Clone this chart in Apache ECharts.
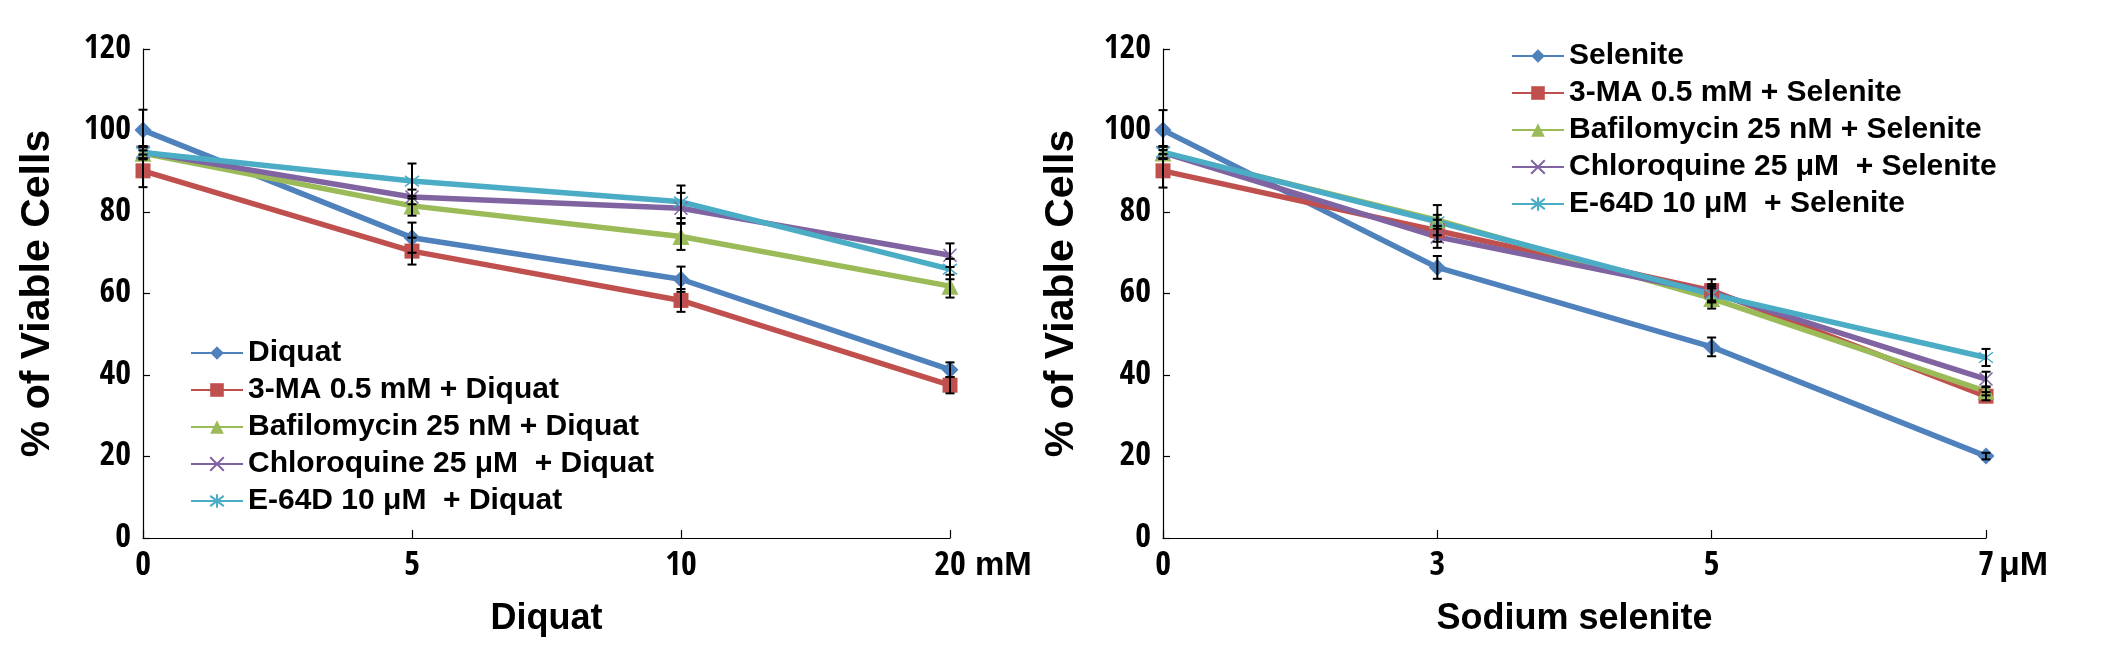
<!DOCTYPE html>
<html>
<head>
<meta charset="utf-8">
<script src="https://cdn.jsdelivr.net/npm/echarts@6/dist/echarts.min.js"></script>
<style>
html,body{margin:0;padding:0;background:#fff;}
#chart{width:2105px;height:650px;}
</style>
</head>
<body>
<div id="chart"></div>
<script>
// ---------- DATA ----------
const diquatCats = ['0', '5', '10', '20'];
const seleniteCats = ['0', '3', '5', '7'];
const yTicks = [0, 20, 40, 60, 80, 100, 120];

const diquatNames = ['Diquat', '3-MA 0.5 mM + Diquat', 'Bafilomycin 25 nM + Diquat', 'Chloroquine 25 \u03bcM  + Diquat', 'E-64D 10 \u03bcM  + Diquat'];
const seleniteNames = ['Selenite', '3-MA 0.5 mM + Selenite', 'Bafilomycin 25 nM + Selenite', 'Chloroquine 25 \u03bcM  + Selenite', 'E-64D 10 \u03bcM  + Selenite'];

const diquatOnly   = [100.1, 73.7, 63.5, 41.3];
const diquat3MA    = [90.1, 70.4, 58.3, 37.5];
const diquatBaf    = [94.4, 81.5, 74.0, 61.8];
const diquatChloro = [94.7, 83.7, 80.9, 69.4];
const diquatE64D   = [94.6, 87.6, 82.5, 66.0];

const diquatOnlyErr   = [5.0, 3.7, 3.1, 1.8];
const diquat3MAErr    = [4.0, 3.3, 2.8, 2.0];
const diquatBafErr    = [1.5, 2.4, 3.3, 2.8];
const diquatChloroErr = [1.5, 1.8, 3.8, 2.9];
const diquatE64DErr   = [1.5, 4.3, 4.0, 2.5];

const seleniteOnly   = [100.1, 66.4, 46.9, 20.1];
const selenite3MA    = [90.1, 75.4, 60.7, 34.8];
const seleniteBaf    = [94.5, 78.0, 58.8, 36.0];
const seleniteChloro = [94.6, 73.9, 60.3, 39.0];
const seleniteE64D   = [94.7, 77.6, 59.8, 44.3];

const seleniteOnlyErr   = [4.9, 2.8, 2.3, 0.8];
const selenite3MAErr    = [4.1, 2.7, 2.8, 1.0];
const seleniteBafErr    = [1.5, 3.7, 2.5, 1.0];
const seleniteChloroErr = [1.5, 2.7, 2.0, 1.8];
const seleniteE64DErr   = [1.5, 1.7, 2.0, 2.1];

// ---------- STYLE ----------
const colors = ['#4F81BD', '#C0504D', '#9BBB59', '#8064A2', '#4BACC6'];
const FONT = "'Liberation Sans', Arial, sans-serif";
const NARROW = "'Open Sans Condensed', 'Liberation Sans', Arial, sans-serif";
const XPATH = 'path://M0,0L10,10M10,0L0,10';
const STARPATH = 'path://M5,-1L5,11M0.5,0.5L9.5,9.5M9.5,0.5L0.5,9.5';
const symbols = ['diamond', 'rect', 'triangle', XPATH, STARPATH];
const symSizes = [17, 15, 17, 13, 14];

function lineSeries(name, data, i, axisIdx) {
  const stroked = i >= 3;
  return {
    name: name,
    type: 'line',
    xAxisIndex: axisIdx,
    yAxisIndex: axisIdx,
    data: data,
    symbol: symbols[i],
    symbolSize: symSizes[i],
    showAllSymbol: true,
    lineStyle: { color: colors[i], width: 5.5 },
    itemStyle: stroked
      ? { color: colors[i], borderColor: colors[i], borderWidth: 1.5 }
      : { color: colors[i], borderWidth: 0 },
    emphasis: { disabled: true },
    z: 2
  };
}

function errSeries(vals, errs, axisIdx) {
  return {
    type: 'custom',
    xAxisIndex: axisIdx,
    yAxisIndex: axisIdx,
    silent: true,
    z: 3,
    data: vals.map((v, j) => [j, v, errs[j]]),
    renderItem: function (params, api) {
      const x = api.value(0), v = api.value(1), e = api.value(2);
      const top = api.coord([x, v + e]);
      const bot = api.coord([x, v - e]);
      const hw = 4.5;
      const st = { stroke: '#000', lineWidth: 2 };
      return {
        type: 'group',
        children: [
          { type: 'line', shape: { x1: top[0], y1: top[1], x2: bot[0], y2: bot[1] }, style: st },
          { type: 'line', shape: { x1: top[0] - hw, y1: top[1], x2: top[0] + hw, y2: top[1] }, style: st },
          { type: 'line', shape: { x1: bot[0] - hw, y1: bot[1], x2: bot[0] + hw, y2: bot[1] }, style: st }
        ]
      };
    }
  };
}

function yAxis(gridIndex, nameGap) {
  return {
    type: 'value',
    gridIndex: gridIndex,
    min: yTicks[0],
    max: yTicks[yTicks.length - 1],
    interval: yTicks[1] - yTicks[0],
    name: '% of Viable Cells',
    nameLocation: 'middle',
    nameRotate: 90,
    nameGap: nameGap,
    nameTextStyle: { fontFamily: FONT, fontWeight: 'bold', fontSize: 41, color: '#000' },
    axisLine: { show: true, lineStyle: { color: '#000', width: 1.2 } },
    axisTick: { show: true, inside: true, length: 7, lineStyle: { color: '#000', width: 1.2 } },
    axisLabel: { fontFamily: NARROW, fontWeight: 'bold', fontSize: 34, color: '#000', margin: 12, padding: [5, 0, 0, 0] },
    splitLine: { show: false }
  };
}

function xAxis(gridIndex, cats, title) {
  return {
    type: 'category',
    gridIndex: gridIndex,
    data: cats,
    boundaryGap: false,
    name: title,
    nameLocation: 'middle',
    nameGap: 63,
    nameTextStyle: { fontFamily: FONT, fontWeight: 'bold', fontSize: 36, color: '#000' },
    axisLine: { show: true, lineStyle: { color: '#000', width: 1.2 } },
    axisTick: { show: true, inside: true, length: 8, alignWithLabel: true, lineStyle: { color: '#000', width: 1.2 } },
    axisLabel: { fontFamily: NARROW, fontWeight: 'bold', fontSize: 34, color: '#000', margin: 11, interval: 0 },
    splitLine: { show: false }
  };
}

function legend(names, left, top) {
  return {
    orient: 'vertical',
    left: left,
    top: top,
    data: names,
    itemWidth: 52,
    itemHeight: 17,
    itemGap: 7,
    itemTextGap: 13,
    selectedMode: false,
    textStyle: { fontFamily: FONT, fontWeight: 'bold', fontSize: 30, lineHeight: 30, color: '#000' }
  };
}

const dVals = [diquatOnly, diquat3MA, diquatBaf, diquatChloro, diquatE64D];
const dErrs = [diquatOnlyErr, diquat3MAErr, diquatBafErr, diquatChloroErr, diquatE64DErr];
const sVals = [seleniteOnly, selenite3MA, seleniteBaf, seleniteChloro, seleniteE64D];
const sErrs = [seleniteOnlyErr, selenite3MAErr, seleniteBafErr, seleniteChloroErr, seleniteE64DErr];

const series = [];
dVals.forEach((v, i) => { series.push(lineSeries(diquatNames[i], v, i, 0)); series.push(errSeries(v, dErrs[i], 0)); });
sVals.forEach((v, i) => { series.push(lineSeries(seleniteNames[i], v, i, 1)); series.push(errSeries(v, sErrs[i], 1)); });

const chart = echarts.init(document.getElementById('chart'), null, { renderer: 'canvas' });
chart.setOption({
  backgroundColor: '#fff',
  animation: false,
  grid: [
    { left: 143, right: 1155, top: 49, bottom: 112 },
    { left: 1163, right: 119, top: 49, bottom: 112 }
  ],
  xAxis: [xAxis(0, diquatCats, 'Diquat'), xAxis(1, seleniteCats, 'Sodium selenite')],
  yAxis: [yAxis(0, 85), yAxis(1, 81)],
  legend: [legend(diquatNames, 185, 333), legend(seleniteNames, 1506, 36)],
  graphic: [
    { type: 'text', left: 975, top: 549, style: { text: 'mM', font: "bold 33px 'Liberation Sans', Arial, sans-serif", fill: '#000' } },
    { type: 'text', left: 1999, top: 549, style: { text: '\u03bcM', font: "bold 34px 'Liberation Sans', Arial, sans-serif", fill: '#000' } }
  ],
  series: series
});
</script>
</body>
</html>
